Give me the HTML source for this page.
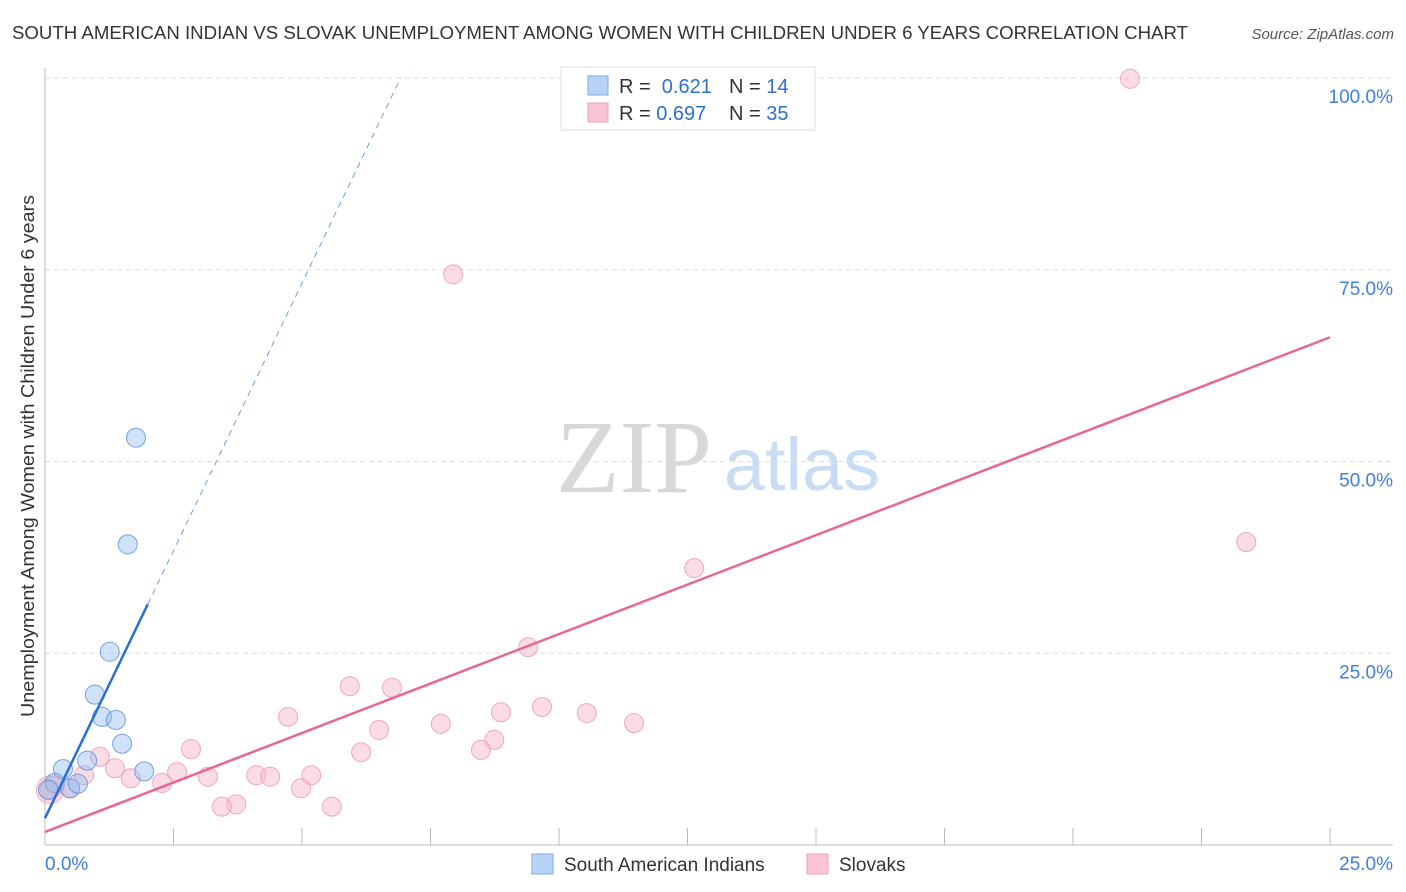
<!DOCTYPE html>
<html><head><meta charset="utf-8"><style>
body{margin:0;background:#fff;font-family:"Liberation Sans",sans-serif;}
#wrap{position:relative;width:1406px;height:892px;overflow:hidden;}
</style></head><body>
<div id="wrap">
<svg id="svg" width="1406" height="892" xmlns="http://www.w3.org/2000/svg">
<text x="12" y="39" font-size="18" fill="#333" textLength="1176" lengthAdjust="spacingAndGlyphs">SOUTH AMERICAN INDIAN VS SLOVAK UNEMPLOYMENT AMONG WOMEN WITH CHILDREN UNDER 6 YEARS CORRELATION CHART</text>
<text x="1394" y="39" font-size="15" fill="#555" font-style="italic" text-anchor="end">Source: ZipAtlas.com</text>
<text x="634" y="492" font-size="104" fill="#d8d8d8" font-family="Liberation Serif,serif" text-anchor="middle">ZIP</text>
<text x="802" y="490" font-size="74" fill="#c8dcf3" text-anchor="middle">atlas</text>
<text transform="translate(34,456) rotate(-90)" font-size="18" fill="#333" text-anchor="middle" textLength="522" lengthAdjust="spacingAndGlyphs">Unemployment Among Women with Children Under 6 years</text>
<g id="grid"></g><g id="marks"></g>
<g>
<rect x="561" y="67" width="254" height="63" fill="#fff" stroke="#ddd"/>
<rect x="588" y="76" width="20" height="19" fill="#b8d3f5" stroke="#7fa9e4"/>
<rect x="588" y="103" width="20" height="19" fill="#f9c4d4" stroke="#eea2bb"/>
<text x="619" y="93" font-size="20" fill="#333">R = <tspan fill="#2f6fd0">&#160;0.621</tspan><tspan x="729">N = </tspan><tspan fill="#2f6fd0"> 14</tspan></text>
<text x="619" y="120" font-size="20" fill="#333">R = <tspan fill="#2f6fd0">0.697</tspan><tspan x="729">N = </tspan><tspan fill="#2f6fd0"> 35</tspan></text>
</g>
<g>
<rect x="532" y="854" width="21" height="20" fill="#b8d3f5" stroke="#7fa9e4"/>
<text x="564" y="871" font-size="19" fill="#333">South American Indians</text>
<rect x="807" y="854" width="21" height="20" fill="#f9c4d4" stroke="#eea2bb"/>
<text x="839" y="871" font-size="19" fill="#333">Slovaks</text>
</g>
</svg>
<script>
const xTicks=[0,2.5,5,7.5,10,12.5,15,17.5,20,22.5,25];
const yTicks=[25,50,75,100];
const yTickLabels=["25.0%","50.0%","75.0%","100.0%"];
const blueX=[1.77,1.61,1.26,0.97,1.11,1.38,1.50,1.93,0.82,0.35,0.19,0.49,0.64,0.06];
const blueY=[53.1,39.2,25.2,19.6,16.7,16.3,13.2,9.6,11.0,9.9,8.1,7.4,8.0,7.2];
const pinkX=[21.11,7.94,23.37,12.63,9.40,5.93,6.75,4.73,8.87,9.67,10.54,11.46,7.70,6.50,8.74,8.48,6.15,2.84,1.07,1.36,0.76,1.67,2.57,2.28,3.17,4.11,4.38,5.18,4.98,3.72,3.44,5.58,0.49,0.19,0.10];
const pinkY=[99.9,74.4,39.5,36.1,25.8,20.7,20.5,16.7,17.3,18.0,17.2,15.9,15.8,15.0,13.7,12.4,12.1,12.5,11.5,10.0,9.1,8.7,9.5,8.1,8.9,9.1,8.9,9.1,7.4,5.3,5.0,5.0,7.4,7.8,7.2];
const blueTrend=[3.5,13.95];
const pinkTrend=[1.7,2.58];
const X=v=>45+v*51.4, Y=v=>845-v*7.67;
const NS='http://www.w3.org/2000/svg';
const grid=document.getElementById('grid'), marks=document.getElementById('marks');
function mk(tag,attrs,parent){const e=document.createElementNS(NS,tag);for(const k in attrs)e.setAttribute(k,attrs[k]);parent.appendChild(e);return e;}
yTicks.forEach((t,i)=>{
 const l=mk('line',{x1:45,x2:1393,y1:Y(t),y2:Y(t),stroke:'#ddd','stroke-dasharray':'5,4'},grid);
 
 
 const tx=mk('text',{x:1393,y:Y(t)+25,'font-size':19,fill:'#3f7fd8','text-anchor':'end'},grid);
 tx.textContent=yTickLabels[i];
 
 
});
const ax=mk('line',{x1:45,x2:45,y1:68,y2:845,stroke:'#bbb'},grid);


const bx=mk('line',{x1:45,x2:1393,y1:845,y2:845,stroke:'#bbb'},grid);


xTicks.forEach(t=>{
 const l=mk('line',{x1:X(t),x2:X(t),y1:828,y2:845,stroke:'#bbb'},grid);
 
 
});
[[0,'0.0%','start',45],[25,'25.0%','end',1393]].forEach(a=>{
 const tx=mk('text',{x:a[3],y:870,'font-size':19,fill:'#3f7fd8','text-anchor':a[2]},grid);
 tx.textContent=a[1];
 
 
});
const big=mk('circle',{cx:X(0.1),cy:Y(7.2),r:14,fill:'rgba(240,170,195,0.45)',stroke:'rgba(230,150,180,0.6)'},marks);


pinkX.forEach((x,i)=>{
 const c=mk('circle',{cx:X(x),cy:Y(pinkY[i]),r:9.5,fill:'rgba(247,184,204,0.5)',stroke:'rgba(235,150,180,0.8)'},marks);
 
 
});
blueX.forEach((x,i)=>{
 const c=mk('circle',{cx:X(x),cy:Y(blueY[i]),r:9.5,fill:'rgba(150,190,240,0.45)',stroke:'rgba(90,140,220,0.8)'},marks);
 
 
});
const bEnd=2.0, bTop=(100-blueTrend[0])/blueTrend[1];
const bl=mk('line',{x1:X(0),y1:Y(blueTrend[0]),x2:X(bEnd),y2:Y(blueTrend[0]+blueTrend[1]*bEnd),stroke:'#2a6fd6','stroke-width':2.5},marks);


const bd=mk('line',{x1:X(bEnd),y1:Y(blueTrend[0]+blueTrend[1]*bEnd),x2:X(bTop),y2:Y(100),stroke:'#6a9ee0','stroke-width':1,'stroke-dasharray':'6,5'},marks);


const pl=mk('line',{x1:X(0),y1:Y(pinkTrend[0]),x2:X(25),y2:Y(pinkTrend[0]+pinkTrend[1]*25),stroke:'#e8678f','stroke-width':2.5},marks);


</script>
</div>
</body></html>
